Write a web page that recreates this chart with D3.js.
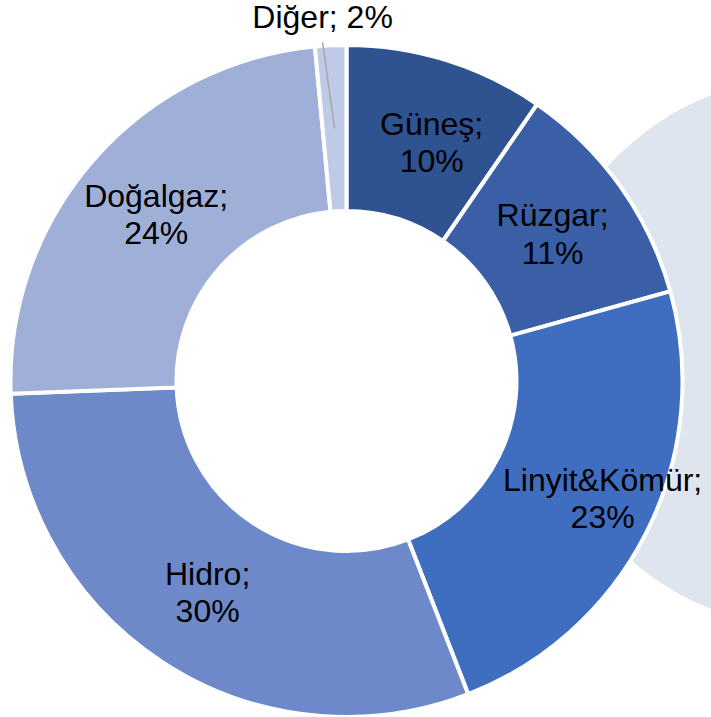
<!DOCTYPE html>
<html>
<head>
<meta charset="utf-8">
<script src="https://cdn.jsdelivr.net/npm/d3@7"></script>
<style>
  body { margin: 0; background: #fff; }
  svg { display: block; }
  text { font-family: "Liberation Sans", Arial, sans-serif; font-size: 32px; fill: #000; }
</style>
</head>
<body>
<div id="viz"></div>
<script>
// electricity generation shares (%)
var categories = ["Güneş", "Rüzgar", "Linyit&Kömür", "Hidro", "Doğalgaz", "Diğer"];
var shares = [9.6, 11.1, 23.4, 30.3, 24.1, 1.5];
var colors = ["#2f5291", "#3a5fa6", "#3f6dbf", "#6d89ca", "#9fafd8", "#bfcbe6"];

var width = 711, height = 717;
var cx = 346.5, cy = 381,
    outerR = 336, innerR = 170, labelR = 253;

// label tweaks (excel best fit moves a few labels)
var nudge = { "Güneş": [10, 3], "Linyit&Kömür": [30, 4] };

var svg = d3.select('#viz').append('svg')
    .attr("width", width)
    .attr("height", height);

// pale decorative disc behind the ring on the right
svg.append("circle")
    .attr("cx", 812)
    .attr("cy", 352)
    .attr("r", 276)
    .attr("fill", "#dfe5ee");

var g = svg.append("g")
    .attr("transform", "translate(" + cx + "," + cy + ")");

var pie = d3.pie().sort(null).value(function(d) { return d; });
var arcs = pie(shares);

var arc = d3.arc().innerRadius(innerR).outerRadius(outerR);
var labelArc = d3.arc().innerRadius(labelR).outerRadius(labelR);

g.selectAll("path")
    .data(arcs)
    .enter().append("path")
      .attr("d", arc)
      .attr("fill", function(d, i) { return colors[i]; })
      .attr("stroke", "#fff")
      .attr("stroke-width", 4);

var lineH = 37.5, capH = 22;

arcs.forEach(function(d, i) {
    var name = categories[i];
    var pct = Math.round(shares[i]) + "%";
    var c = labelArc.centroid(d);

    if (shares[i] < 5) {
        // small slice: leader line to a label above the ring
        var end = [c[0] - 12, c[1] - 86];
        g.append("line")
            .attr("x1", c[0]).attr("y1", c[1])
            .attr("x2", end[0]).attr("y2", end[1])
            .attr("stroke", "#a6a6a6")
            .attr("stroke-width", 1.5);
        g.append("text")
            .attr("x", end[0])
            .attr("y", end[1] - 14)
            .attr("text-anchor", "middle")
            .text(name + "; " + pct);
        return;
    }

    var n = nudge[name] || [0, 0];
    var x = c[0] + n[0], y = c[1] + n[1];
    var t = g.append("text")
        .attr("text-anchor", "middle");
    t.append("tspan")
        .attr("x", x)
        .attr("y", y + (capH - lineH) / 2)
        .text(name + ";");
    t.append("tspan")
        .attr("x", x)
        .attr("y", y + (capH - lineH) / 2 + lineH)
        .text(pct);
});
</script>
</body>
</html>
